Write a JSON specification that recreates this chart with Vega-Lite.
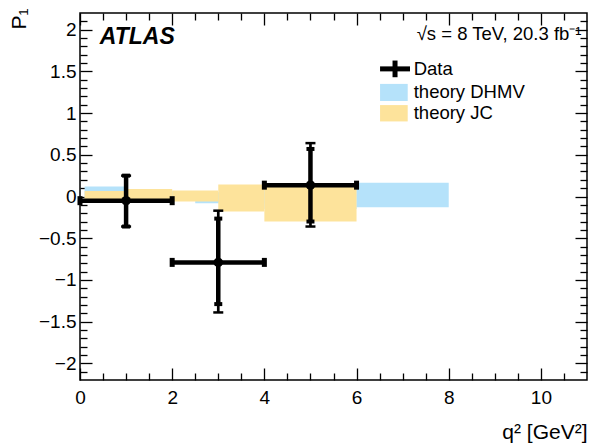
{
  "$schema": "https://vega.github.io/schema/vega-lite/v6.json",
  "width": 507,
  "height": 367,
  "autosize": {"type": "none"},
  "padding": {"left": 80, "top": 13, "right": 3, "bottom": 63},
  "background": "white",
  "config": {
    "view": {"stroke": "#000", "strokeWidth": 1.5},
    "font": "Liberation Sans",
    "axis": {
      "domain": false, "grid": false, "ticks": true, "tickColor": "#000", "tickWidth": 1.3, "tickOpacity": 1, "zindex": 1,
      "labelFont": "Liberation Sans", "labelFontSize": 19, "labelColor": "#000",
      "titleFont": "Liberation Sans", "titleFontSize": 21, "titleFontWeight": "normal", "titleColor": "#000",
      "labelFlush": false, "labelOverlap": false, "format": ".1~f"
    }
  },
  "datasets": {
    "dhmv": [
      {"q2lo": 0.1, "q2hi": 0.98, "lo": -0.02, "hi": 0.12},
      {"q2lo": 1.1, "q2hi": 2.5, "lo": -0.04, "hi": 0.06},
      {"q2lo": 2.5, "q2hi": 4, "lo": -0.08, "hi": 0.05},
      {"q2lo": 4, "q2hi": 6, "lo": -0.15, "hi": 0.1},
      {"q2lo": 6, "q2hi": 8, "lo": -0.13, "hi": 0.165}
    ],
    "jc": [
      {"q2lo": 0.1, "q2hi": 1, "lo": -0.05, "hi": 0.065},
      {"q2lo": 1, "q2hi": 2, "lo": -0.065, "hi": 0.09},
      {"q2lo": 2, "q2hi": 3, "lo": -0.06, "hi": 0.072},
      {"q2lo": 3, "q2hi": 4, "lo": -0.18, "hi": 0.145},
      {"q2lo": 4, "q2hi": 6, "lo": -0.3, "hi": 0.15}
    ],
    "meas": [
      {"q2": 1, "q2lo": 0, "q2hi": 2, "p1": -0.05, "statlo": -0.36, "stathi": 0.25, "totlo": -0.36, "tothi": 0.25},
      {"q2": 3, "q2lo": 2, "q2hi": 4, "p1": -0.79, "statlo": -1.29, "stathi": -0.265, "totlo": -1.39, "tothi": -0.17},
      {"q2": 5, "q2lo": 4, "q2hi": 6, "p1": 0.136, "statlo": -0.3, "stathi": 0.57, "totlo": -0.36, "tothi": 0.64}
    ],
    "one": [{}]
  },
  "resolve": {"axis": {"x": "independent", "y": "independent"}},
  "layer": [
    {
      "data": {"name": "dhmv"},
      "mark": {"type": "rect", "color": "#b5e2fa"},
      "encoding": {
        "x": {"field": "q2lo", "type": "quantitative", "scale": {"domain": [0, 11], "nice": false, "zero": false},
          "axis": {"orient": "bottom", "values": [0, 2, 4, 6, 8, 10], "tickSize": -12, "labelPadding": 20,
            "title": "q² [GeV²]", "titleAnchor": "end", "titleAlign": "right", "titleX": 507, "titleY": 58, "titleBaseline": "alphabetic"}},
        "x2": {"field": "q2hi"},
        "y": {"field": "lo", "type": "quantitative", "scale": {"domain": [-2.2, 2.2], "nice": false, "zero": false},
          "axis": {"orient": "left", "values": [-2, -1.5, -1, -0.5, 0, 0.5, 1, 1.5, 2], "tickSize": -12, "labelPadding": 16,
            "title": "P₁", "titleAngle": 270, "titleX": -55, "titleY": -5, "titleAlign": "right", "titleBaseline": "alphabetic", "titleFontSize": 21}},
        "y2": {"field": "hi"}
      }
    },
    {
      "data": {"name": "jc"},
      "mark": {"type": "rect", "color": "#fde39b"},
      "encoding": {
        "x": {"field": "q2lo", "type": "quantitative",
          "axis": {"orient": "bottom", "values": [0.5, 1, 1.5, 2.5, 3, 3.5, 4.5, 5, 5.5, 6.5, 7, 7.5, 8.5, 9, 9.5, 10.5], "tickSize": -7, "labels": false, "title": null}},
        "x2": {"field": "q2hi"},
        "y": {"field": "lo", "type": "quantitative",
          "axis": {"orient": "left", "values": [-2.1, -1.9, -1.8, -1.7, -1.6, -1.4, -1.3, -1.2, -1.1, -0.9, -0.8, -0.7, -0.6, -0.4, -0.3, -0.2, -0.1, 0.1, 0.2, 0.3, 0.4, 0.6, 0.7, 0.8, 0.9, 1.1, 1.2, 1.3, 1.4, 1.6, 1.7, 1.8, 1.9, 2.1], "tickSize": -7, "labels": false, "title": null}},
        "y2": {"field": "hi"}
      }
    },
    {
      "data": {"name": "meas"},
      "mark": {"type": "rule", "color": "#000", "strokeWidth": 4.5},
      "encoding": {
        "x": {"field": "q2lo", "type": "quantitative",
          "axis": {"orient": "top", "values": [0, 2, 4, 6, 8, 10], "tickSize": -12, "labels": false, "title": null}},
        "x2": {"field": "q2hi"},
        "y": {"field": "p1", "type": "quantitative",
          "axis": {"orient": "right", "values": [-2, -1.5, -1, -0.5, 0, 0.5, 1, 1.5, 2], "tickSize": -12, "labels": false, "title": null}}
      }
    },
    {
      "data": {"name": "meas"},
      "mark": {"type": "rule", "color": "#000", "strokeWidth": 2.7},
      "encoding": {
        "x": {"field": "q2", "type": "quantitative",
          "axis": {"orient": "top", "values": [0.5, 1, 1.5, 2.5, 3, 3.5, 4.5, 5, 5.5, 6.5, 7, 7.5, 8.5, 9, 9.5, 10.5], "tickSize": -7, "labels": false, "title": null}},
        "y": {"field": "totlo", "type": "quantitative",
          "axis": {"orient": "right", "values": [-2.1, -1.9, -1.8, -1.7, -1.6, -1.4, -1.3, -1.2, -1.1, -0.9, -0.8, -0.7, -0.6, -0.4, -0.3, -0.2, -0.1, 0.1, 0.2, 0.3, 0.4, 0.6, 0.7, 0.8, 0.9, 1.1, 1.2, 1.3, 1.4, 1.6, 1.7, 1.8, 1.9, 2.1], "tickSize": -7, "labels": false, "title": null}},
        "y2": {"field": "tothi"}
      }
    },
    {
      "data": {"name": "meas"},
      "mark": {"type": "rule", "color": "#000", "strokeWidth": 4.5},
      "encoding": {
        "x": {"field": "q2", "type": "quantitative", "axis": null},
        "y": {"field": "statlo", "type": "quantitative", "axis": null},
        "y2": {"field": "stathi"}
      }
    },
    {
      "data": {"name": "meas"},
      "transform": [{"fold": ["totlo", "tothi"], "as": ["k", "v"]}],
      "mark": {"type": "tick", "orient": "horizontal", "color": "#000", "size": 10, "thickness": 2.5, "opacity": 1},
      "encoding": {
        "x": {"field": "q2", "type": "quantitative", "axis": null},
        "y": {"field": "v", "type": "quantitative", "axis": null}
      }
    },
    {
      "data": {"name": "meas"},
      "transform": [{"fold": ["statlo", "stathi"], "as": ["k", "v"]}],
      "mark": {"type": "tick", "orient": "horizontal", "color": "#000", "size": 8, "thickness": 4, "opacity": 1},
      "encoding": {
        "x": {"field": "q2", "type": "quantitative", "axis": null},
        "y": {"field": "v", "type": "quantitative", "axis": null}
      }
    },
    {
      "data": {"name": "meas"},
      "transform": [{"fold": ["q2lo", "q2hi"], "as": ["k", "v"]}],
      "mark": {"type": "tick", "orient": "vertical", "color": "#000", "size": 9, "thickness": 5, "opacity": 1},
      "encoding": {
        "x": {"field": "v", "type": "quantitative", "axis": null},
        "y": {"field": "p1", "type": "quantitative", "axis": null}
      }
    },
    {
      "data": {"name": "meas"},
      "mark": {"type": "point", "shape": "circle", "filled": true, "color": "#000", "size": 90, "opacity": 1},
      "encoding": {
        "x": {"field": "q2", "type": "quantitative", "axis": null},
        "y": {"field": "p1", "type": "quantitative", "axis": null}
      }
    },
    {
      "data": {"name": "one"},
      "mark": {"type": "rule", "color": "#000", "strokeWidth": 5},
      "encoding": {
        "x": {"datum": 6.51, "type": "quantitative", "axis": null},
        "x2": {"datum": 7.16},
        "y": {"datum": 1.53, "type": "quantitative", "axis": null}
      }
    },
    {
      "data": {"name": "one"},
      "mark": {"type": "rule", "color": "#000", "strokeWidth": 5},
      "encoding": {
        "x": {"datum": 6.835, "type": "quantitative", "axis": null},
        "y": {"datum": 1.43, "type": "quantitative", "axis": null},
        "y2": {"datum": 1.63}
      }
    },
    {
      "data": {"name": "one"},
      "mark": {"type": "rect", "color": "#b5e2fa"},
      "encoding": {
        "x": {"datum": 6.51, "type": "quantitative", "axis": null},
        "x2": {"datum": 7.11},
        "y": {"datum": 1.145, "type": "quantitative", "axis": null},
        "y2": {"datum": 1.35}
      }
    },
    {
      "data": {"name": "one"},
      "mark": {"type": "rect", "color": "#fde39b"},
      "encoding": {
        "x": {"datum": 6.51, "type": "quantitative", "axis": null},
        "x2": {"datum": 7.11},
        "y": {"datum": 0.9, "type": "quantitative", "axis": null},
        "y2": {"datum": 1.096}
      }
    },
    {
      "data": {"name": "one"},
      "mark": {"type": "text", "align": "left", "baseline": "middle", "fontSize": 18.5, "color": "#000", "text": "Data"},
      "encoding": {
        "x": {"datum": 7.24, "type": "quantitative", "axis": null},
        "y": {"datum": 1.53, "type": "quantitative", "axis": null}
      }
    },
    {
      "data": {"name": "one"},
      "mark": {"type": "text", "align": "left", "baseline": "middle", "fontSize": 18.5, "color": "#000", "text": "theory DHMV"},
      "encoding": {
        "x": {"datum": 7.24, "type": "quantitative", "axis": null},
        "y": {"datum": 1.25, "type": "quantitative", "axis": null}
      }
    },
    {
      "data": {"name": "one"},
      "mark": {"type": "text", "align": "left", "baseline": "middle", "fontSize": 18.5, "color": "#000", "text": "theory JC"},
      "encoding": {
        "x": {"datum": 7.24, "type": "quantitative", "axis": null},
        "y": {"datum": 1.0, "type": "quantitative", "axis": null}
      }
    },
    {
      "data": {"name": "one"},
      "mark": {"type": "text", "align": "left", "baseline": "alphabetic", "fontSize": 23, "fontWeight": "bold", "fontStyle": "italic", "color": "#000", "text": "ATLAS"},
      "encoding": {
        "x": {"datum": 0.43, "type": "quantitative", "axis": null},
        "y": {"datum": 1.83, "type": "quantitative", "axis": null}
      }
    },
    {
      "data": {"name": "one"},
      "mark": {"type": "text", "align": "right", "baseline": "alphabetic", "fontSize": 18.5, "color": "#000", "text": "√s = 8 TeV, 20.3 fb⁻¹"},
      "encoding": {
        "x": {"datum": 10.88, "type": "quantitative", "axis": null},
        "y": {"datum": 1.88, "type": "quantitative", "axis": null}
      }
    }
  ]
}
